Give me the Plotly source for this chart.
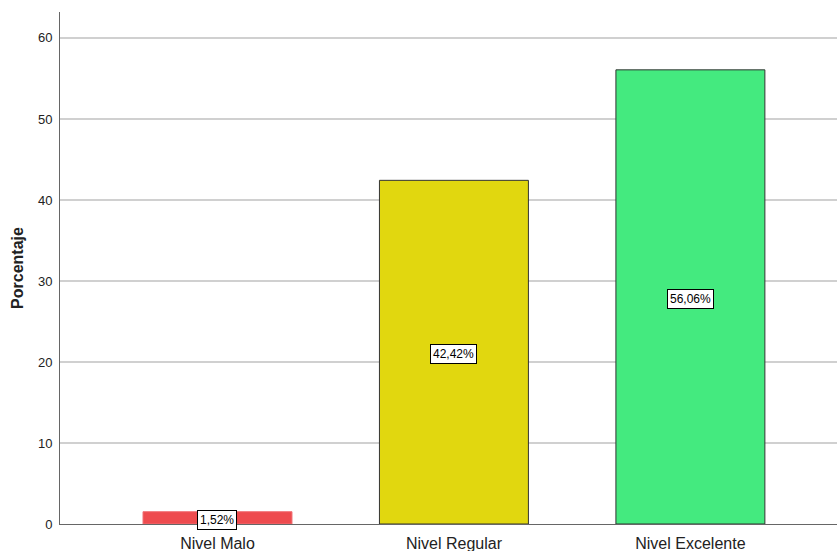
import plotly.graph_objects as go

categories = ["Nivel Malo", "Nivel Regular", "Nivel Excelente"]
percentages = [1.52, 42.42, 56.06]
bar_colors = ["#EE4B4E", "#E1D70F", "#44EA7F"]
edge_colors = ["#F07074", "#333333", "#333333"]
value_labels = ["1,52%", "42,42%", "56,06%"]
y_ticks = [0, 10, 20, 30, 40, 50, 60]

fig = go.Figure()
fig.add_trace(go.Bar(
    x=categories,
    y=percentages,
    width=0.63,
    marker=dict(color=bar_colors, line=dict(color=edge_colors, width=1)),
    hoverinfo="skip",
))

# value boxes placed at the middle of each bar
for cat, val, lab in zip(categories, percentages, value_labels):
    fig.add_annotation(
        x=cat, y=val / 2, text=lab, showarrow=False, yshift=-2,
        font=dict(family="Liberation Sans, Arial", size=12, color="black"),
        bgcolor="white", bordercolor="black", borderwidth=1, borderpad=2,
    )

fig.update_layout(
    width=837, height=551,
    margin=dict(l=60, r=0, t=12, b=27),
    paper_bgcolor="white", plot_bgcolor="white",
    showlegend=False,
    font=dict(family="Liberation Sans, Arial", color="#222222"),
)
fig.update_xaxes(
    type="category",
    range=[-0.666, 2.62],
    showgrid=False,
    showline=True, linecolor="#666666", linewidth=1,
    ticks="", tickfont=dict(size=16, color="#222222"),
    ticklabelstandoff=5,
)
fig.update_yaxes(
    range=[0, 63.2],
    tickvals=y_ticks,
    showgrid=True, gridcolor="#D0D0D0", gridwidth=1.5,
    zeroline=False,
    showline=True, linecolor="#666666", linewidth=1,
    ticks="", tickfont=dict(size=13, color="#222222"),
    ticklabelstandoff=4,
    title=dict(text="<b>Porcentaje</b>", font=dict(size=16, color="#222222"), standoff=10),
)

fig.write_html("out.html")
